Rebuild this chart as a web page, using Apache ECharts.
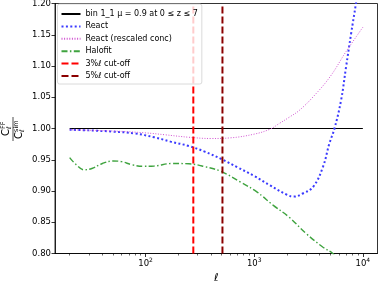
<!DOCTYPE html>
<html><head><meta charset="utf-8">
<script src="https://cdn.jsdelivr.net/npm/echarts@6/dist/echarts.min.js"></script>
<style>html,body{margin:0;padding:0;background:#fff}#c{width:379px;height:283px}</style>
</head><body><div id="c"></div>
<script>
// ---- data ----
const xMajorTicks = [100, 1000, 10000];
const xMinorTicks = [20,30,40,50,60,70,80,90,200,300,400,500,600,700,800,900,2000,3000,4000,5000,6000,7000,8000,9000];
const baselineEll = [20, 10000];
const baseline = [1.0, 1.0];
const ellReact = [20,30,50,80,120,170,250,350,500,700,1000,1400,2000,2300,2800,3500,4300,4900,5500,6300,7000,7800,8600,9200];
const react = [0.998,0.997,0.995,0.992,0.986,0.979,0.972,0.963,0.951,0.938,0.924,0.909,0.894,0.891,0.896,0.907,0.939,0.975,1.001,1.045,1.098,1.152,1.198,1.235];
const ellRescaled = [20,50,100,150,250,400,600,1000,1400,1700,2100,2600,3500,5000,7000,10000];
const rescaled = [0.998,0.996,0.993,0.990,0.986,0.984,0.985,0.991,0.999,1.008,1.018,1.029,1.051,1.083,1.123,1.162];
const ellHalofit = [20,23,27,32,40,50,60,75,95,120,175,250,350,500,750,1050,1500,2100,3000,4300,5200,5800];
const halofit = [0.9535,0.942,0.934,0.936,0.944,0.948,0.947,0.942,0.9395,0.940,0.944,0.9435,0.939,0.931,0.914,0.899,0.877,0.858,0.832,0.810,0.801,0.792];
const cut3 = 275, cut5 = 510;
const yRange = [0.8, 1.2];
const names = ['bin 1_1 \u03bc = 0.9 at 0 \u2264 z \u2264 7', 'React', 'React (rescaled conc)', 'Halofit', '3%\u2113 cut-off', '5%\u2113 cut-off'];

const pairs = (xs, ys) => xs.map((x, i) => [x, ys[i]]);
const FONT = 'DejaVu Sans';
const chart = echarts.init(document.getElementById('c'), null, {renderer: 'canvas'});
const xMin = 14.66, xMax = 13640;
const supRich = {b: {fontSize: 8.5, fontFamily: FONT, color: '#000'}, s: {fontSize: 6, fontFamily: FONT, color: '#000', verticalAlign: 'top', padding: [0,0,6,0]}};
chart.setOption({
  animation: false,
  textStyle: {fontFamily: FONT},
  grid: {left: 55, right: 1.5, top: 3.5, bottom: 29.5, show: true, borderColor: '#000', borderWidth: 0.8, containLabel: false, outerBoundsMode: 'none'},
  legend: {
    data: names, orient: 'vertical', left: 57.5, top: 4,
    itemWidth: 19, itemHeight: 10, itemGap: 2.4,
    padding: [5, 4, 3, 3], itemTextGap: 7,
    itemStyle: {opacity: 0},
    backgroundColor: 'rgba(255,255,255,0.8)', borderColor: '#d0d0d0', borderWidth: 0.8, borderRadius: 2,
    textStyle: {fontSize: 8, fontFamily: FONT, color: '#000', lineHeight: 10}
  },
  xAxis: [{
    type: 'log', logBase: 10, min: xMin, max: xMax,
    name: '\u2113', nameLocation: 'middle', nameGap: 18.5,
    nameTextStyle: {fontSize: 11, fontStyle: 'italic', fontFamily: FONT, color: '#000'},
    axisLine: {lineStyle: {color: '#000', width: 0.8}},
    axisTick: {show: true, inside: false, length: 3.5, lineStyle: {color: '#000', width: 0.8}, customValues: xMajorTicks},
    axisLabel: {customValues: xMajorTicks, margin: 4, formatter: v => '{b|10}{s|' + Math.round(Math.log10(v)) + '}', rich: supRich},
    splitLine: {show: false}, minorTick: {show: false}
  }, {
    type: 'log', logBase: 10, min: xMin, max: xMax, position: 'bottom', gridIndex: 0,
    axisLine: {show: false},
    axisTick: {show: true, length: 2, lineStyle: {color: '#000', width: 0.6}, customValues: xMinorTicks},
    axisLabel: {show: false}, splitLine: {show: false}
  }],
  yAxis: {
    type: 'value', min: yRange[0], max: yRange[1], interval: 0.05,
    axisLine: {show: true, lineStyle: {color: '#000', width: 0.8}},
    axisTick: {show: true, length: 3.5, lineStyle: {color: '#000', width: 0.8}},
    axisLabel: {fontSize: 8.5, fontFamily: FONT, color: '#000', margin: 4, formatter: v => v.toFixed(2)},
    splitLine: {show: false}
  },
  series: [
    {name: names[0], type: 'line', data: pairs(baselineEll, baseline), symbol: 'none', lineStyle: {color: '#000', width: 1.2}, itemStyle: {color: '#000'}},
    {name: names[1], type: 'line', data: pairs(ellReact, react), symbol: 'none', smooth: 0.4, lineStyle: {color: '#3a3aff', width: 2, type: [2, 2.4]}, itemStyle: {color: '#3a3aff'}},
    {name: names[2], type: 'line', data: pairs(ellRescaled, rescaled), symbol: 'none', smooth: 0.4, lineStyle: {color: '#d050d0', width: 1, type: [1, 1.6]}, itemStyle: {color: '#d050d0'}},
    {name: names[3], type: 'line', data: pairs(ellHalofit, halofit), symbol: 'none', smooth: 0.4, lineStyle: {color: '#3fa33f', width: 1.4, type: [6, 2.4, 1.5, 2.4]}, itemStyle: {color: '#3fa33f'}},
    {name: names[4], type: 'line', data: pairs([cut3, cut3], yRange), symbol: 'none', lineStyle: {color: '#ff0000', width: 2, type: [7, 3]}, itemStyle: {color: '#ff0000'}},
    {name: names[5], type: 'line', data: pairs([cut5, cut5], yRange), symbol: 'none', lineStyle: {color: '#8b0000', width: 2, type: [7, 3]}, itemStyle: {color: '#8b0000'}}
  ],
  graphic: [{
    type: 'group', x: 13, y: 129, rotation: Math.PI / 2,
    children: [
      {type: 'line', shape: {x1: -12, y1: 0, x2: 12, y2: 0}, style: {stroke: '#000', lineWidth: 0.7}},
      {type: 'text', x: -7, y: -1.5, style: {text: 'C', fontSize: 10, fontFamily: FONT, fill: '#000', verticalAlign: 'bottom'}},
      {type: 'text', x: 0, y: -6.5, style: {text: 'FF', fontSize: 6.5, fontFamily: FONT, fill: '#000', verticalAlign: 'bottom'}},
      {type: 'text', x: 0, y: -0.5, style: {text: '\u2113', fontSize: 6.5, fontFamily: FONT, fill: '#000', fontStyle: 'italic', verticalAlign: 'bottom'}},
      {type: 'text', x: -10, y: 11.5, style: {text: 'C', fontSize: 10, fontFamily: FONT, fill: '#000', verticalAlign: 'bottom'}},
      {type: 'text', x: -3, y: 6.5, style: {text: 'sim', fontSize: 6.5, fontFamily: FONT, fill: '#000', verticalAlign: 'bottom'}},
      {type: 'text', x: -3, y: 12.5, style: {text: '\u2113', fontSize: 6.5, fontFamily: FONT, fill: '#000', fontStyle: 'italic', verticalAlign: 'bottom'}}
    ]
  }]
});
</script></body></html>
